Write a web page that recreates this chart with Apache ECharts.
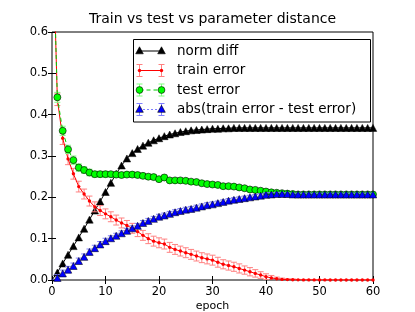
<!DOCTYPE html>
<html><head><meta charset="utf-8">
<script src="https://cdn.jsdelivr.net/npm/echarts@6/dist/echarts.min.js"></script>
<style>html,body{margin:0;padding:0;background:#fff}#c{width:415px;height:312px}</style>
</head><body><div id="c"></div>
<script>
const epochs = [0,1,2,3,4,5,6,7,8,9,10,11,12,13,14,15,16,17,18,19,20,21,22,23,24,25,26,27,28,29,30,31,32,33,34,35,36,37,38,39,40,41,42,43,44,45,46,47,48,49,50,51,52,53,54,55,56,57,58,59,60];
const xTicks = [0,10,20,30,40,50,60];
const yTicks = [0.0,0.1,0.2,0.3,0.4,0.5,0.6];
const normDiff = [0,0.018,0.040,0.061,0.082,0.103,0.124,0.146,0.168,0.190,0.213,0.235,0.257,0.277,0.294,0.307,0.317,0.325,0.332,0.338,0.343,0.348,0.352,0.355,0.358,0.360,0.362,0.363,0.364,0.365,0.366,0.366,0.367,0.367,0.368,0.368,0.368,0.368,0.368,0.368,0.368,0.368,0.368,0.368,0.368,0.368,0.368,0.368,0.368,0.368,0.368,0.368,0.368,0.368,0.368,0.368,0.368,0.368,0.368,0.368,0.368];
const trainErr = [0.9,0.437,0.343,0.293,0.257,0.226,0.208,0.191,0.177,0.168,0.160,0.153,0.145,0.138,0.132,0.125,0.117,0.108,0.100,0.094,0.090,0.087,0.079,0.074,0.070,0.066,0.062,0.058,0.054,0.051,0.048,0.043,0.038,0.035,0.032,0.028,0.024,0.020,0.016,0.012,0.008,0.005,0.003,0.0015,0.001,0.0005,0.0004,0.0003,0.0003,0.0002,0.0002,0.0002,0.0001,0.0001,0.0001,0.0001,0.0001,0.0001,0.0001,0.0001,0.0001];
const trainErrBar = [0.015,0.015,0.015,0.014,0.013,0.013,0.012,0.012,0.012,0.012,0.012,0.012,0.012,0.012,0.012,0.012,0.012,0.012,0.012,0.012,0.012,0.012,0.012,0.012,0.012,0.012,0.012,0.012,0.012,0.012,0.012,0.012,0.011,0.011,0.011,0.011,0.010,0.010,0.009,0.008,0.007,0.006,0.004,0.003,0.002,0.002,0.001,0.001,0.001,0.001,0.001,0.001,0.001,0.001,0.001,0.001,0.001,0.001,0.001,0.001,0.001];
const testErr = [0.9,0.442,0.361,0.316,0.290,0.272,0.266,0.260,0.256,0.256,0.256,0.256,0.255,0.254,0.255,0.255,0.254,0.252,0.250,0.249,0.244,0.248,0.241,0.241,0.241,0.240,0.238,0.237,0.234,0.232,0.231,0.230,0.227,0.227,0.226,0.224,0.222,0.219,0.218,0.216,0.214,0.212,0.211,0.210,0.209,0.208,0.207,0.207,0.207,0.207,0.207,0.207,0.207,0.207,0.207,0.207,0.207,0.207,0.207,0.207,0.207];
const testErrBar = [0.012,0.012,0.011,0.010,0.010,0.009,0.008,0.008,0.007,0.007,0.007,0.006,0.006,0.006,0.006,0.006,0.006,0.006,0.006,0.006,0.006,0.006,0.005,0.005,0.005,0.005,0.005,0.005,0.005,0.005,0.005,0.004,0.004,0.004,0.004,0.004,0.004,0.004,0.004,0.004,0.004,0.003,0.003,0.003,0.003,0.003,0.003,0.003,0.003,0.003,0.003,0.003,0.003,0.003,0.003,0.003,0.003,0.003,0.003,0.003,0.003];
const absDiff = [0,0.005,0.016,0.025,0.034,0.046,0.056,0.068,0.077,0.086,0.094,0.101,0.107,0.113,0.119,0.125,0.131,0.138,0.143,0.148,0.153,0.156,0.160,0.164,0.167,0.170,0.172,0.175,0.178,0.181,0.183,0.186,0.189,0.192,0.194,0.196,0.198,0.200,0.202,0.204,0.206,0.207,0.208,0.208,0.208,0.207,0.207,0.207,0.207,0.207,0.207,0.207,0.207,0.207,0.207,0.207,0.207,0.207,0.207,0.207,0.207];
const absDiffBar = [0.008,0.008,0.008,0.008,0.007,0.007,0.007,0.007,0.007,0.007,0.007,0.006,0.006,0.006,0.006,0.006,0.006,0.006,0.006,0.006,0.006,0.006,0.006,0.006,0.006,0.006,0.006,0.006,0.006,0.006,0.006,0.005,0.005,0.005,0.005,0.005,0.005,0.005,0.005,0.005,0.005,0.004,0.004,0.003,0.003,0.003,0.003,0.003,0.003,0.003,0.003,0.003,0.003,0.003,0.003,0.003,0.003,0.003,0.003,0.003,0.003];

const FONT = 'DejaVu Sans';
const chart = echarts.init(document.getElementById('c'), null, {renderer:'canvas'});

function pts(vals, hideFirst) {
  return epochs.map((e,i) => {
    const d = {value:[e, vals[i]]};
    if (i === 0 && hideFirst) d.symbol = 'none';
    return d;
  });
}
function errSeries(name, vals, errs, color, z) {
  const data = epochs.map((e,i) => [e, vals[i]-errs[i], vals[i]+errs[i]]).slice(1);
  return {
    type:'custom', name, z, clip:true, data, silent:true,
    encode:{x:0, y:[1,2]},
    renderItem(params, api) {
      const x = api.value(0);
      const lo = api.coord([x, api.value(1)]);
      const hi = api.coord([x, api.value(2)]);
      const w = 3, st = {stroke:color, lineWidth:1};
      return {type:'group', children:[
        {type:'line', shape:{x1:lo[0],y1:lo[1],x2:hi[0],y2:hi[1]}, style:st},
        {type:'line', shape:{x1:lo[0]-w,y1:lo[1],x2:lo[0]+w,y2:lo[1]}, style:st},
        {type:'line', shape:{x1:hi[0]-w,y1:hi[1],x2:hi[0]+w,y2:hi[1]}, style:st}
      ]};
    }
  };
}
const axisCommon = {
  min:0, axisLine:{show:false}, splitLine:{show:false},
  axisTick:{inside:true, length:4, lineStyle:{color:'#000', width:1}}
};

// legend (drawn as graphics)
const LX0 = 139.5, LX1 = 161.5, LT = 177;
const rows = [51, 70.5, 90, 109.5];
const lg = [];
lg.push({type:'rect', shape:{x:133.5, y:39.5, width:237, height:82.5}, style:{fill:'#fff', stroke:'#000', lineWidth:1}, z:100});
function tri(x,y,fill){ return {type:'polygon', shape:{points:[[x,y-4.2],[x-3.8,y+2.8],[x+3.8,y+2.8]]}, style:{fill, stroke:'#000', lineWidth:0.6}, z:103}; }
function ebar(x,y,color){ return [
  {type:'line', shape:{x1:x,y1:y-6,x2:x,y2:y+6}, style:{stroke:color,lineWidth:1}, z:101},
  {type:'line', shape:{x1:x-3,y1:y-6,x2:x+3,y2:y-6}, style:{stroke:color,lineWidth:1}, z:101},
  {type:'line', shape:{x1:x-3,y1:y+6,x2:x+3,y2:y+6}, style:{stroke:color,lineWidth:1}, z:101}
]; }
// norm diff
lg.push({type:'line', shape:{x1:LX0,y1:rows[0],x2:LX1,y2:rows[0]}, style:{stroke:'#000',lineWidth:1}, z:102});
lg.push(tri(LX0,rows[0],'#000'), tri(LX1,rows[0],'#000'));
// train error
lg.push(...ebar(LX0,rows[1],'#ff8080'), ...ebar(LX1,rows[1],'#ff8080'));
lg.push({type:'line', shape:{x1:LX0,y1:rows[1],x2:LX1,y2:rows[1]}, style:{stroke:'#ff0000',lineWidth:1}, z:102});
lg.push({type:'circle', shape:{cx:LX0,cy:rows[1],r:1.7}, style:{fill:'#ff0000'}, z:103},{type:'circle', shape:{cx:LX1,cy:rows[1],r:1.7}, style:{fill:'#ff0000'}, z:103});
// test error
lg.push(...ebar(LX0,rows[2],'#80ff80'), ...ebar(LX1,rows[2],'#80ff80'));
lg.push({type:'line', shape:{x1:LX0,y1:rows[2],x2:LX1,y2:rows[2]}, style:{stroke:'#00cc00',lineWidth:1,lineDash:[4,3]}, z:102});
lg.push({type:'circle', shape:{cx:LX0,cy:rows[2],r:3.4}, style:{fill:'#00ff00',stroke:'#000',lineWidth:0.6}, z:103},{type:'circle', shape:{cx:LX1,cy:rows[2],r:3.4}, style:{fill:'#00ff00',stroke:'#000',lineWidth:0.6}, z:103});
// abs diff
lg.push(...ebar(LX0,rows[3],'#8080ff'), ...ebar(LX1,rows[3],'#8080ff'));
lg.push({type:'line', shape:{x1:LX0,y1:rows[3],x2:LX1,y2:rows[3]}, style:{stroke:'#0000ff',lineWidth:1,lineDash:[1,3]}, z:102});
lg.push(tri(LX0,rows[3],'#0000ff'), tri(LX1,rows[3],'#0000ff'));
const names = ['norm diff','train error','test error','abs(train error - test error)'];
names.forEach((t,i) => lg.push({type:'text', x:LT, y:rows[i], style:{text:t, fill:'#000', font:'13.5px "DejaVu Sans"', textVerticalAlign:'middle', textAlign:'left'}, z:104}));

chart.setOption({
  animation:false,
  backgroundColor:'#fff',
  title:{text:'Train vs test vs parameter distance', left:212.5, textAlign:'center', top:12, padding:0,
    textStyle:{fontFamily:FONT, fontSize:14, fontWeight:'normal', color:'#000'}},
  grid:{left:52, right:42, top:32, bottom:32, containLabel:false, outerBoundsMode:'none',
    show:true, borderColor:'#000', borderWidth:1, backgroundColor:'#fff'},
  xAxis:[
    Object.assign({}, axisCommon, {type:'value', max:60, interval:10, position:'bottom',
      name:'epoch', nameLocation:'middle', nameGap:21, nameMoveOverlap:false,
      nameTextStyle:{fontFamily:FONT, fontSize:11, color:'#000'},
      axisLabel:{fontFamily:FONT, fontSize:11.5, color:'#000', margin:6, formatter:v => xTicks.includes(v) ? String(v) : ''}}),
    Object.assign({}, axisCommon, {type:'value', max:60, interval:10, position:'top', axisLabel:{show:false}})
  ],
  yAxis:[
    Object.assign({}, axisCommon, {type:'value', max:0.6, interval:0.1, position:'left',
      axisLabel:{fontFamily:FONT, fontSize:11.5, color:'#000', margin:4,
        formatter:v => { const t = yTicks.find(k => Math.abs(k-v) < 1e-9); return t === undefined ? '' : t.toFixed(1); }}}),
    Object.assign({}, axisCommon, {type:'value', max:0.6, interval:0.1, position:'right', axisLabel:{show:false}})
  ],
  series:[
    {type:'line', name:'norm diff', data:pts(normDiff, true), z:2, clip:true,
      showAllSymbol:true, symbol:'triangle', symbolSize:[7.5,7],
      itemStyle:{color:'#000', borderColor:'#000', borderWidth:0.5},
      lineStyle:{color:'#000', width:1}},
    errSeries('train error bars', trainErr, trainErrBar, '#ff8080', 3),
    {type:'line', name:'train error', data:pts(trainErr, true), z:4, clip:true,
      showAllSymbol:true, symbol:'circle', symbolSize:3.4,
      itemStyle:{color:'#ff0000', borderWidth:0},
      lineStyle:{color:'#ff0000', width:1}},
    errSeries('test error bars', testErr, testErrBar, '#80ff80', 5),
    {type:'line', name:'test error', data:pts(testErr, true), z:6, clip:true,
      showAllSymbol:true, symbol:'circle', symbolSize:7,
      itemStyle:{color:'#00ff00', borderColor:'#000', borderWidth:0.6},
      lineStyle:{color:'#00cc00', width:1, type:[4,3]}},
    errSeries('abs diff bars', absDiff, absDiffBar, '#8080ff', 7),
    {type:'line', name:'abs(train error - test error)', data:pts(absDiff, true), z:8, clip:true,
      showAllSymbol:true, symbol:'triangle', symbolSize:[7.5,7],
      itemStyle:{color:'#0000ff', borderColor:'#000', borderWidth:0.5},
      lineStyle:{color:'#0000ff', width:1, type:[1,3]}}
  ],
  graphic:{elements:lg}
});
</script></body></html>
